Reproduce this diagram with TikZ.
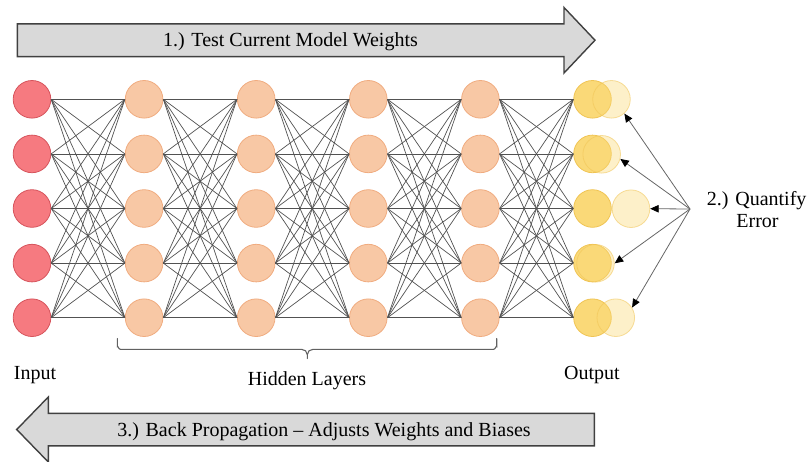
\documentclass[tikz,border=0pt]{standalone}
\usepackage{fontspec}
\setmainfont{Liberation Serif}
\newfontfamily\labelface{Liberation Serif}
\usetikzlibrary{arrows.meta}

\definecolor{infill}{RGB}{246,122,128}
\definecolor{inline}{RGB}{214,84,92}
\definecolor{hidfill}{RGB}{248,200,165}
\definecolor{hidline}{RGB}{240,172,128}
\definecolor{outfill}{RGB}{250,217,120}
\definecolor{outline}{RGB}{240,196,84}
\definecolor{arrowfill}{RGB}{217,217,217}
\definecolor{arrowline}{RGB}{64,64,64}

\begin{document}
\begin{tikzpicture}[x=1pt,y=-1pt,
  neuron/.style={circle, minimum size=37.6pt, inner sep=0pt, line width=0.8pt},
  innode/.style={neuron, fill=infill, draw=inline},
  hidnode/.style={neuron, fill=hidfill, draw=hidline},
  outnode/.style={neuron, fill=outfill, draw=outline},
  ghost/.style={neuron, fill=outfill, fill opacity=0.4, draw=outline, draw opacity=0.55},
  weight/.style={draw=black!68, line width=0.7pt},
  errarrow/.style={draw=black!60, line width=0.8pt,
    -{Triangle[length=8.5pt, width=7.5pt, color=black]}},
  bigarrow/.style={fill=arrowfill, draw=arrowline, line width=1.4pt, line join=miter},
  lbl/.style={font=\labelface\fontsize{20}{21.6}\selectfont, inner sep=0pt, anchor=base},
  bracket/.style={draw=black!62, line width=1.1pt, line cap=round},
]
\useasboundingbox (0,0) rectangle (809,461);

% forward pass arrow
\draw[bigarrow] (17.3,23.8) -- (564,23.8) -- (564,7.5) -- (595,40.2)
  -- (564,73) -- (564,56.6) -- (17.3,56.6) -- cycle;
\node[lbl] (fwd) at (290.5,46.8) {1.) Test Current Model Weights};

% back-propagation arrow
\draw[bigarrow] (594.3,413.3) -- (48.3,413.3) -- (48.3,397) -- (16.7,429.5)
  -- (48.3,462) -- (48.3,445.8) -- (594.3,445.8) -- cycle;
\node[lbl] (back) at (324,436.2) {3.) Back Propagation – Adjusts Weights and Biases};

% neurons
\foreach \r in {1,...,5}{
  \node[innode] (n0-\r) at (32,{99.3+54.6*(\r-1)}) {};
  \foreach \l in {1,...,4}
    \node[hidnode] (n\l-\r) at ({32+112.1*\l},{99.3+54.6*(\r-1)}) {};
  \node[outnode] (n5-\r) at (592.5,{99.3+54.6*(\r-1)}) {};
}

% fully connected weights
\foreach \l [evaluate=\l as \m using int(\l+1)] in {0,...,4}
  \foreach \a in {1,...,5}
    \foreach \b in {1,...,5}
      \draw[weight] (n\l-\a.east) -- (n\m-\b.west);

% shifted targets beside the outputs
\node[ghost] (g1) at (611.5,99.3) {};
\node[ghost] (g2) at (601.7,154.3) {};
\node[ghost] (g3) at (631,208.7) {};
\node[ghost] (g4) at (595.5,263.3) {};
\node[ghost] (g5) at (615.8,317.7) {};

% error arrows
\coordinate (err) at (690,209);
\draw[errarrow] (err) -- (g1.-48);
\draw[errarrow] (err) -- (g2.-14);
\draw[errarrow] (err) -- (g3.0);
\draw[errarrow] (err) -- (g4.0);
\draw[errarrow] (err) -- (g5.32);

\node[lbl] (quant) at (756.7,205.6) {2.) Quantify};
\node[lbl] (errtxt) at (757.5,227.2) {Error};

% bracket under the hidden layers
\draw[bracket] (117.3,338.5) -- (117.3,346.3) to[out=90,in=180] (120.3,349.3)
  -- (301.5,349.3) to[out=0,in=90] (307.3,354.5) -- (307.3,358.5);
\draw[bracket] (496.7,338.5) -- (496.7,346.3) to[out=90,in=0] (493.7,349.3)
  -- (313.1,349.3) to[out=180,in=90] (307.3,354.5);

% layer labels
\node[lbl] (inlbl) at (35,379) {Input};
\node[lbl] (hidlbl) at (307,385) {Hidden Layers};
\node[lbl] (outlbl) at (592,379) {Output};
\end{tikzpicture}
\end{document}
